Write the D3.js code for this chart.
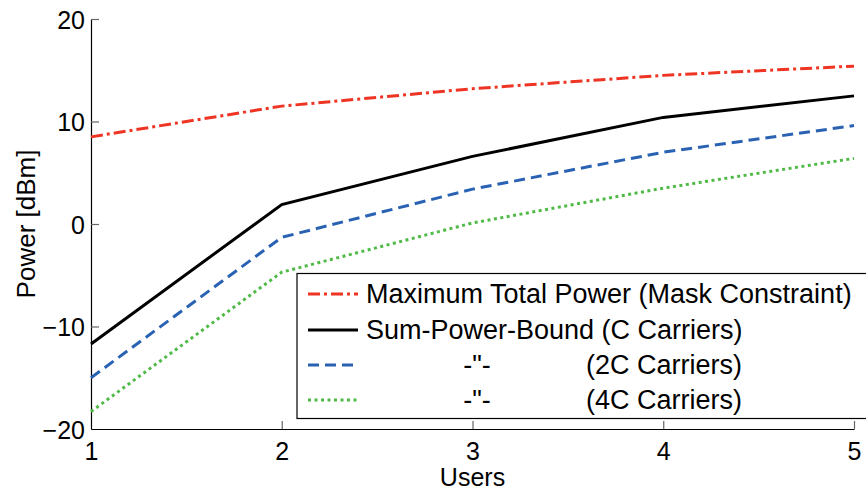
<!DOCTYPE html>
<html>
<head>
<meta charset="utf-8">
<script src="https://cdn.jsdelivr.net/npm/d3@7"></script>
<style>
  body { margin: 0; background: #fff; }
  svg { font-family: "Liberation Sans", Arial, sans-serif; }
</style>
</head>
<body>
<div id="d3"></div>
<script>
const users = [1, 2, 3, 4, 5];
const maskPower = [8.5, 11.5, 13.2, 14.5, 15.4];
const sumPowerC = [-11.7, 1.9, 6.6, 10.4, 12.5];
const sumPower2C = [-15.0, -1.3, 3.4, 7.0, 9.6];
const sumPower4C = [-18.3, -4.7, 0.1, 3.5, 6.4];
const yTicks = [-20, -10, 0, 10, 20];

const width = 866;
const height = 492;
const margin = { left: 91, right: 12, top: 19, bottom: 63 };

const chart = d3.select("#d3").append("svg")
  .attr("width", width)
  .attr("height", height);

const x = d3.scaleLinear().domain([1, 5]).range([margin.left, width - margin.right]);
const y = d3.scaleLinear().domain([-20, 20]).range([height - margin.bottom, margin.top]);

const series = [
  { name: "Maximum Total Power (Mask Constraint)", values: maskPower, color: "#ee3524", dash: "12,4,3,4" },
  { name: "Sum-Power-Bound (C Carriers)", values: sumPowerC, color: "#000000", dash: null },
  { name: "(2C Carriers)", values: sumPower2C, color: "#2a62b3", dash: "11,6" },
  { name: "(4C Carriers)", values: sumPower4C, color: "#4fba46", dash: "3,3.5" }
];

const line = d3.line()
  .x((d, i) => x(users[i]))
  .y(d => y(d));

// axes
const xAxis = chart.append("g")
  .attr("transform", `translate(0, ${y(-20)})`)
  .call(d3.axisBottom(x).tickValues(users).tickFormat(d3.format("d")).tickSizeInner(-8).tickSizeOuter(0).tickPadding(14));

const yAxis = chart.append("g")
  .attr("transform", `translate(${x(1)}, 0)`)
  .call(d3.axisLeft(y).tickValues(yTicks).tickSizeInner(-8).tickSizeOuter(0).tickPadding(6));

[xAxis, yAxis].forEach(a => {
  a.select(".domain").attr("stroke", "#000").attr("stroke-width", 1.2);
  a.selectAll(".tick line").attr("stroke", "#666").attr("stroke-width", 1.2);
  a.selectAll(".tick text")
    .attr("fill", "#000")
    .style("font-size", "25px")
    .style("font-family", "'Liberation Sans', Arial, sans-serif");
});
yAxis.selectAll(".tick text").attr("dy", "0.36em");
xAxis.selectAll(".tick text").attr("dy", null).attr("y", 31);
// hide the tick lines that sit on the other axis
xAxis.selectAll(".tick").filter(d => d === 1).select("line").remove();
yAxis.selectAll(".tick").filter(d => d === -20).select("line").remove();

// lines
chart.selectAll(".series")
  .data(series)
  .enter()
  .append("path")
  .attr("class", "series")
  .attr("fill", "none")
  .attr("stroke", d => d.color)
  .attr("stroke-width", 3)
  .attr("stroke-dasharray", d => d.dash)
  .attr("d", d => line(d.values));

// axis titles
chart.append("text")
  .attr("x", (x(1) + x(5)) / 2)
  .attr("y", 486)
  .attr("text-anchor", "middle")
  .style("font-size", "25px")
  .text("Users");

chart.append("text")
  .attr("transform", `translate(35, ${y(0)}) rotate(-90)`)
  .attr("text-anchor", "middle")
  .style("font-size", "26px")
  .text("Power [dBm]");

// legend
const legend = chart.append("g").attr("id", "legend");
legend.append("rect")
  .attr("x", 297)
  .attr("y", 273.5)
  .attr("width", 580)
  .attr("height", 145)
  .attr("fill", "#fff")
  .attr("stroke", "#000")
  .attr("stroke-width", 1.2);

const rowY = [294, 330, 365, 400];
const item = legend.selectAll(".legend-item")
  .data(series)
  .enter()
  .append("g")
  .attr("class", "legend-item")
  .attr("transform", (d, i) => `translate(0, ${rowY[i]})`);

item.append("line")
  .attr("x1", 308).attr("x2", 358)
  .attr("y1", 0).attr("y2", 0)
  .attr("stroke", d => d.color)
  .attr("stroke-width", 3)
  .attr("stroke-dasharray", d => d.dash);

item.append("text")
  .attr("x", (d, i) => i < 2 ? 366 : 586)
  .attr("y", 9)
  .style("font-size", "27px")
  .text(d => d.name);

item.filter((d, i) => i >= 2)
  .append("text")
  .attr("x", 477)
  .attr("y", 9)
  .attr("text-anchor", "middle")
  .style("font-size", "27px")
  .text('-"-');
</script>
</body>
</html>
